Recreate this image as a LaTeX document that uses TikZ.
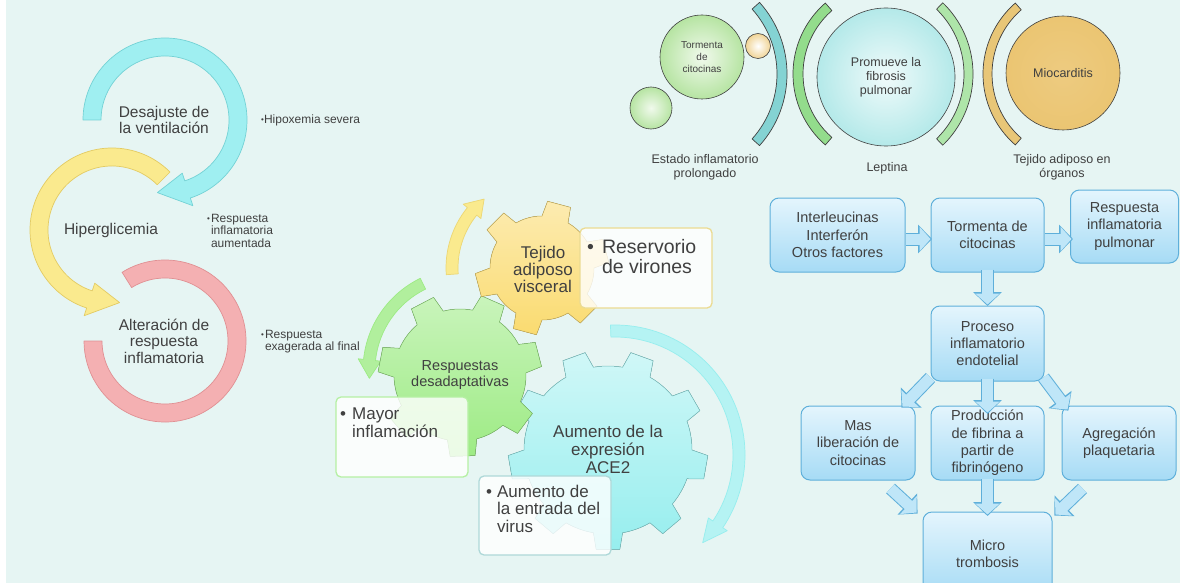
\documentclass[tikz,border=0pt]{standalone}
\usepackage{fontspec}
\setmainfont{Liberation Sans}
\usetikzlibrary{arrows.meta, calc, positioning}

\definecolor{bgmint}{HTML}{E6F5F3}
\definecolor{txtgray}{HTML}{404040}
\definecolor{cyanfill}{HTML}{9FEFF1}
\definecolor{cyanedge}{HTML}{74D2D5}
\definecolor{yelfill}{HTML}{FAEA8E}
\definecolor{yeledge}{HTML}{E3CB63}
\definecolor{pinkfill}{HTML}{F4B0B2}
\definecolor{pinkedge}{HTML}{E09093}
\definecolor{gearyel}{HTML}{FADB70}
\definecolor{geargreen}{HTML}{9DEB84}
\definecolor{gearcyan}{HTML}{96EEEE}
\definecolor{flowtop}{HTML}{E4F5FD}
\definecolor{flowbot}{HTML}{A6DBF5}
\definecolor{flowedge}{HTML}{5EAFDA}
\definecolor{flowarrow}{HTML}{BFE6F8}
\definecolor{tanfill}{HTML}{EBC572}
\definecolor{bandcyan}{HTML}{84D3D3}
\definecolor{bandgreen}{HTML}{93DC8C}
\definecolor{bandtan}{HTML}{E8C677}
\definecolor{ballgreen}{HTML}{B6E4A2}
\definecolor{ballcyan}{HTML}{B4E9E9}

\newcommand{\fsz}[2]{\fontsize{#1pt}{#2pt}\selectfont}
\newcommand{\smallbul}{\raisebox{1pt}{\fsz{8}{8}\textbullet}}

\newcommand{\ringband}[6]{%
  \filldraw[line width=0.7pt, line join=round, shift={(#1)}, #6]
    (#4:#3) arc[start angle=#4, end angle=#5, radius=#3]
    -- (#5:#2) arc[start angle=#5, end angle=#4, radius=#2] -- cycle;}

\newcommand{\looparrow}[7]{%
  \filldraw[line width=0.7pt, line join=round, shift={(#1)}, #7]
    (#4:#3) arc[start angle=#4, end angle=#5, radius=#3]
    -- (#5:{#3+0.45*(#3-#2)}) -- (#6:{(#2+#3)/2}) -- (#5:{#2-0.45*(#3-#2)})
    -- (#5:#2) arc[start angle=#5, end angle=#4, radius=#2] -- cycle;}

\newcommand{\gearbody}[6]{%
  \pgfmathsetmacro{\gearstep}{360/#2}
  \filldraw[line width=0.5pt, line join=round, shift={(#1)}, #6]
    (#5:#3) \foreach \k in {1,...,#2}{
      arc[start angle={#5+(\k-1)*\gearstep}, end angle={#5+(\k-0.5)*\gearstep}, radius=#3]
      -- ({#5+(\k-0.42)*\gearstep}:#4) -- ({#5+(\k-0.08)*\gearstep}:#4) -- ({#5+\k*\gearstep}:#3)
    } -- cycle;}

\begin{document}
\begin{tikzpicture}[x=1pt, y=1pt,
  looplabel/.style={align=center, text=txtgray, font=\fsz{15.5}{16.5}, inner sep=0pt},
  sidenote/.style={anchor=base west, text=txtgray, font=\fsz{12}{12.5}, inner sep=0pt},
  gearlabel/.style={align=center, text=txtgray, inner sep=0pt},
  notebox/.style={rectangle, rounded corners=5pt, fill=white, fill opacity=0.8, line width=1.3pt, inner sep=0pt},
  notetext/.style={anchor=base west, text=txtgray, inner sep=0pt},
  ball/.style={circle, draw=black!75, line width=0.6pt, inner sep=0pt, align=center, text=txtgray},
  flowbox/.style={rectangle, rounded corners=9pt, draw=flowedge, line width=1pt, top color=flowtop, bottom color=flowbot, text=txtgray, align=center, font=\fsz{14.5}{17.3}, inner sep=0pt},
  fatarrow/.style={draw=flowarrow, line width=11pt, -{Triangle[length=11pt, width=24pt]},
    preaction={draw=flowedge, line width=13pt, shorten >=-1.5pt, -{Triangle[length=14pt, width=28pt]}}}
]
\useasboundingbox (0,0) rectangle (1180,-583);
\clip (0,0) rectangle (1180,-583);
\fill[white] (0,0) rectangle (6,-583);
\fill[bgmint] (6,0) rectangle (1180,-583);

\ringband{165,-341}{63}{81}{122}{-180}{fill=pinkfill, draw=pinkedge}
\looparrow{112,-230}{64}{82}{45}{252}{276}{fill=yelfill, draw=yeledge}
\looparrow{165,-120}{64}{82}{180}{-72}{-96}{fill=cyanfill, draw=cyanedge}

\node[looplabel] (desajuste) at (164,-120) {Desajuste de\\la ventilación};
\node[looplabel] (hiper) at (111,-230) {Hiperglicemia};
\node[looplabel] (altera) at (164,-341) {Alteración de\\respuesta\\inflamatoria};

\node[sidenote] (hipox) at (261,-124) {\smallbul Hipoxemia severa};
\node[sidenote] (aument) at (207,-222)
  {\begin{tabular}[t]{@{}l@{\hspace{1pt}}l@{}}\smallbul&Respuesta\\&inflamatoria\\&aumentada\end{tabular}};
\node[sidenote] (exager) at (261,-338)
  {\begin{tabular}[t]{@{}l@{\hspace{1pt}}l@{}}\smallbul&Respuesta\\&exagerada al final\end{tabular}};

\looparrow{542,-268}{84}{96}{184}{141}{130}{fill=yelfill, draw=yeledge!60!yelfill}
\looparrow{465,-370}{90}{102}{116}{174}{185}{fill=geargreen!80!white, draw=geargreen}
\looparrow{615,-455}{118}{130}{92}{-34}{-45}{fill=gearcyan!70!white, draw=gearcyan}

\gearbody{608,-450}{9}{84}{100}{80}{top color=gearcyan!45!white, bottom color=gearcyan, draw=gearcyan!80!black}
\gearbody{460,-375}{7}{66}{82}{79}{top color=geargreen!55!white, bottom color=geargreen, draw=geargreen!80!black}
\gearbody{542,-268}{6}{52}{67}{30}{top color=gearyel!55!white, bottom color=gearyel, draw=gearyel!80!black}

\node[gearlabel, font=\fsz{17}{17}] (tejido) at (543,-269) {Tejido\\adiposo\\visceral};
\node[gearlabel, font=\fsz{14.5}{16}] (respdes) at (460,-375) {Respuestas\\desadaptativas};
\node[gearlabel, font=\fsz{17}{18}] (ace) at (608,-449) {Aumento de la\\expresión\\ACE2};

\node[notebox, draw=yeledge!70!white, minimum width=132, minimum height=80] (reservbox) at (646,-268) {};
\node[notebox, draw=geargreen!75!white, minimum width=132, minimum height=80] (mayorbox) at (402,-437) {};
\node[notebox, draw=gearcyan!80!black!60!white, minimum width=132, minimum height=79] (entradabox) at (545,-515.5) {};

\node[notetext, font=\fsz{19.5}{20.5}] (reserv) at (587,-253)
  {\begin{tabular}[t]{@{}l@{\hspace{8pt}}l@{}}\textbullet&Reservorio\\&de virones\end{tabular}};
\node[notetext, font=\fsz{17}{18}] (mayor) at (340,-419)
  {\begin{tabular}[t]{@{}l@{\hspace{6pt}}l@{}}\textbullet&Mayor\\&inflamación\end{tabular}};
\node[notetext, font=\fsz{17}{17.5}] (entrada) at (486,-497)
  {\begin{tabular}[t]{@{}l@{\hspace{5pt}}l@{}}\textbullet&Aumento de\\&la entrada del\\&virus\end{tabular}};

\ringband{680,-74}{97}{107}{-42}{42}{fill=bandcyan, draw=black!75}
\ringband{887,-74}{84}{94}{131}{229}{fill=bandgreen, draw=black!75}
\ringband{874,-74}{90}{99}{-46}{46}{fill=bandgreen!75!white, draw=black!75}
\ringband{1077,-74}{85}{94}{131}{229}{fill=bandtan, draw=black!75}

\node[ball, minimum size=42, inner color=ballgreen!20!white, outer color=ballgreen] (smallball) at (651,-108) {};
\node[ball, minimum size=84, inner color=ballgreen!20!white, outer color=ballgreen, font=\fsz{10}{12}] (stormball) at (702,-57) {Tormenta\\de\\citocinas};
\node[ball, minimum size=25, inner color=white, outer color=tanfill!75!white] (tinyball) at (758,-46) {};
\node[ball, minimum size=138, inner color=ballcyan!20!white, outer color=ballcyan, font=\fsz{12.5}{14}] (fibball) at (886,-77) {Promueve la\\fibrosis\\pulmonar};
\node[ball, minimum size=114, inner color=tanfill!90!white, outer color=tanfill, font=\fsz{12.5}{14}] (mioball) at (1063,-73) {Miocarditis};

\node[gearlabel, font=\fsz{12.5}{14}] (estado) at (705,-167) {Estado inflamatorio\\prolongado};
\node[gearlabel, font=\fsz{12.5}{14}] (leptina) at (887,-168) {Leptina};
\node[gearlabel, font=\fsz{12.5}{14}] (organos) at (1062,-167) {Tejido adiposo en\\órganos};

\node[flowbox, minimum width=135, minimum height=74] (interl) at (837.5,-235) {Interleucinas\\Interferón\\Otros factores};
\node[flowbox, minimum width=113, minimum height=74] (storm) at (987.5,-235) {Tormenta de\\citocinas};
\node[flowbox, minimum width=108, minimum height=73] (respul) at (1124.5,-226.5) {Respuesta\\inflamatoria\\pulmonar};
\node[flowbox, minimum width=113, minimum height=75] (proceso) at (987.5,-343.5) {Proceso\\inflamatorio\\endotelial};
\node[flowbox, minimum width=114, minimum height=74] (masl) at (858,-443) {Mas\\liberación de\\citocinas};
\node[flowbox, minimum width=113, minimum height=74] (fibrina) at (987.5,-443) {Producción\\de fibrina a\\partir de\\fibrinógeno};
\node[flowbox, minimum width=114, minimum height=74] (agreg) at (1119,-443) {Agregación\\plaquetaria};
\node[flowbox, minimum width=129, minimum height=84] (micro) at (987.5,-554) {Micro\\trombosis};

\coordinate (respin) at ($(storm.east)+(27,-4)$);
\draw[fatarrow] ($(interl.east)+(0,-4)$) -- ($(storm.west)+(0,-4)$);
\draw[fatarrow] ($(storm.east)+(0,-4)$) -- (respin);
\draw[fatarrow] ($(storm.south)+(0,3)$) -- ($(proceso.north)+(0,1)$);
\draw[fatarrow] ($(proceso.south west)+(0,4)$) -- ($(masl.north east)+(-13,-1)$);
\draw[fatarrow] ($(proceso.south)+(0,3)$) -- ($(fibrina.north)+(0,-7)$);
\draw[fatarrow] ($(proceso.south east)+(-1,4)$) -- ($(agreg.north west)+(6,-4)$);
\draw[fatarrow] ($(masl.south east)+(-25,-8)$) -- ($(micro.north west)+(-6,-1)$);
\draw[fatarrow] ($(fibrina.south)+(0,2)$) -- ($(micro.north)+(0,-3)$);
\draw[fatarrow] ($(agreg.south west)+(21,-8)$) -- ($(micro.north east)+(3,-3)$);
\end{tikzpicture}
\end{document}
